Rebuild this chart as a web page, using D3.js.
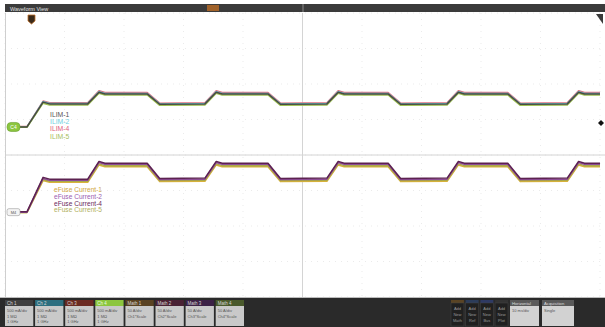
<!DOCTYPE html>
<html><head><meta charset="utf-8">
<script src="https://cdn.jsdelivr.net/npm/d3@7"></script>
<style>html,body{margin:0;padding:0;background:#fff;overflow:hidden}svg{display:block;font-family:"Liberation Sans",Arial,sans-serif}</style>
</head><body>
<svg id="c" width="605" height="327"></svg>
<script>
// time in horizontal divisions (10 divisions across the screen)
const timeDiv = [0.25,0.37,0.64,0.75,1.39,1.58,1.68,2.39,2.60,3.36,3.55,3.65,4.42,4.63,5.41,5.60,5.70,6.44,6.65,7.43,7.62,7.72,8.45,8.66,9.45,9.64,9.74,10.0];
// vertical position in divisions (0 = bottom of graticule, 8 = top)
const ilim1 = [4.79,4.79,5.49,5.44,5.44,5.77,5.72,5.72,5.43,5.44,5.77,5.72,5.72,5.43,5.44,5.77,5.72,5.72,5.43,5.44,5.77,5.72,5.72,5.43,5.44,5.77,5.72,5.72];
const ilim2 = [4.79,4.79,5.50,5.45,5.45,5.78,5.73,5.73,5.44,5.45,5.78,5.73,5.73,5.44,5.45,5.78,5.73,5.73,5.44,5.45,5.78,5.73,5.73,5.44,5.45,5.78,5.73,5.73];
const ilim4 = [4.80,4.80,5.52,5.47,5.47,5.81,5.76,5.76,5.46,5.47,5.81,5.76,5.76,5.46,5.47,5.81,5.76,5.76,5.46,5.47,5.81,5.76,5.76,5.46,5.47,5.81,5.76,5.76];
const ilim5 = [4.78,4.78,5.46,5.41,5.41,5.74,5.69,5.69,5.40,5.41,5.74,5.69,5.69,5.40,5.41,5.74,5.69,5.69,5.40,5.41,5.74,5.69,5.69,5.40,5.41,5.74,5.69,5.69];
const efuse1 = [2.38,2.38,3.28,3.23,3.23,3.72,3.67,3.67,3.25,3.26,3.72,3.67,3.67,3.25,3.26,3.72,3.67,3.67,3.25,3.26,3.72,3.67,3.67,3.25,3.26,3.72,3.67,3.67];
const efuse2 = [2.39,2.39,3.34,3.29,3.29,3.79,3.74,3.74,3.31,3.32,3.79,3.74,3.74,3.31,3.32,3.79,3.74,3.74,3.31,3.32,3.79,3.74,3.74,3.31,3.32,3.79,3.74,3.74];
const efuse4 = [2.40,2.40,3.37,3.32,3.32,3.82,3.77,3.77,3.34,3.35,3.82,3.77,3.77,3.34,3.35,3.82,3.77,3.77,3.34,3.35,3.82,3.77,3.77,3.34,3.35,3.82,3.77,3.77];
const efuse5 = [2.38,2.38,3.31,3.26,3.26,3.75,3.70,3.70,3.28,3.29,3.75,3.70,3.70,3.28,3.29,3.75,3.70,3.70,3.28,3.29,3.75,3.70,3.70,3.28,3.29,3.75,3.70,3.70];
const ilimNames = ["ILIM-1","ILIM-2","ILIM-4","ILIM-5"];
const efuseNames = ["eFuse Current-1","eFuse Current-2","eFuse Current-4","eFuse Current-5"];
const chanLabels = ["Ch 1","Ch 2","Ch 3","Ch 4","Math 1","Math 2","Math 3","Math 4"];
const chanLines = [["500 mA/div","1 MΩ","1 GHz"],["500 mA/div","1 MΩ","1 GHz"],["500 mA/div","1 MΩ","1 GHz"],["500 mA/div","1 MΩ","1 GHz"],["50 A/div","Ch1*Scale"],["50 A/div","Ch2*Scale"],["50 A/div","Ch3*Scale"],["50 A/div","Ch4*Scale"]];
const addLabels = [["Add","New","Math"],["Add","New","Ref"],["Add","New","Bus"],["Add","New","Plot"]];

const svg = d3.select("#c");
const W=605,H=327;
const L=5,R=600,T=13,B=297;
const x = d3.scaleLinear().domain([0,10]).range([L,R]);
const y = d3.scaleLinear().domain([0,8]).range([B,T]);

svg.append("rect").attr("width",W).attr("height",H).attr("fill","#ffffff");
// top title bar
svg.append("rect").attr("x",5).attr("y",4).attr("width",600).attr("height",8).attr("fill","#3b3b3b");
svg.append("text").attr("x",10).attr("y",10.5).attr("font-size",5.5).attr("fill","#e0e0e0").text("Waveform View");
svg.append("rect").attr("x",207).attr("y",5).attr("width",12).attr("height",6).attr("fill","#a0622a");
svg.append("line").attr("x1",303).attr("x2",303).attr("y1",4).attr("y2",12).attr("stroke","#888");

// graticule
const gx = d3.range(0,11), gy = d3.range(0,9);
svg.append("g").selectAll("line").data(gx).join("line")
  .attr("x1",d=>x(d)).attr("x2",d=>x(d)).attr("y1",T).attr("y2",B)
  .attr("stroke","#e6e6e6").attr("stroke-width",0.8).attr("stroke-dasharray","1,5");
svg.append("g").selectAll("line").data(gy).join("line")
  .attr("x1",L).attr("x2",R).attr("y1",d=>y(d)).attr("y2",d=>y(d))
  .attr("stroke","#e6e6e6").attr("stroke-width",0.8).attr("stroke-dasharray","1,5");
svg.append("line").attr("x1",x(5)).attr("x2",x(5)).attr("y1",T).attr("y2",B).attr("stroke","#d4d4d4").attr("stroke-width",1);
svg.append("line").attr("x1",L).attr("x2",W).attr("y1",y(4)).attr("y2",y(4)).attr("stroke","#d4d4d4").attr("stroke-width",1);
svg.append("line").attr("x1",L+0.5).attr("x2",L+0.5).attr("y1",T).attr("y2",B).attr("stroke","#cfcfcf");

svg.append("path").attr("d","M596,14 L603,14 L603,24 Z").attr("fill","#3a3a3a");

// traces
const line = d3.line().x((d,i)=>x(timeDiv[i])).y(d=>y(d));
const traces = [
  {v:ilim4,c:"#e07080"},{v:ilim2,c:"#58c4d4"},{v:ilim5,c:"#9cc050"},{v:ilim1,c:"#4a4a42"},
  {v:efuse1,c:"#d9b23a"},{v:efuse5,c:"#a9a84a"},{v:efuse2,c:"#8d4c96"},{v:efuse4,c:"#5c2250"}
];
svg.append("g").selectAll("path").data(traces).join("path")
  .attr("d",d=>line(d.v)).attr("fill","none").attr("stroke",d=>d.c).attr("stroke-width",1.5).attr("stroke-linejoin","round");

// legends
const ilimCol = ["#555555","#6fd0e0","#e0607a","#a8c060"];
svg.append("g").selectAll("text").data(ilimNames).join("text")
  .attr("x",50).attr("y",(d,i)=>117+i*7.2).attr("font-size",6.8).attr("fill",(d,i)=>ilimCol[i]).text(d=>d);
const efCol = ["#d0a840","#9a60b0","#6a2a60","#b0b060"];
svg.append("g").selectAll("text").data(efuseNames).join("text")
  .attr("x",54).attr("y",(d,i)=>192+i*6.8).attr("font-size",6.6).attr("fill",(d,i)=>efCol[i]).text(d=>d);

// channel markers
svg.append("line").attr("x1",19).attr("x2",x(timeDiv[0])).attr("y1",y(ilim1[0])).attr("y2",y(ilim1[0])).attr("stroke","#8cc63f").attr("stroke-width",1);
svg.append("rect").attr("x",7).attr("y",y(ilim1[0])-4.5).attr("width",13).attr("height",9).attr("rx",4).attr("fill","#8cc63f").attr("stroke","#6aa030").attr("stroke-width",0.6);
svg.append("text").attr("x",13.5).attr("y",y(ilim1[0])+2).attr("text-anchor","middle").attr("font-size",5).attr("fill","#fff").text("C4");
svg.append("rect").attr("x",7).attr("y",y(efuse2[0])-3.5).attr("width",13).attr("height",7).attr("rx",2).attr("fill","#f4f4f4").attr("stroke","#9a9a9a").attr("stroke-width",0.6);
svg.append("text").attr("x",13.5).attr("y",y(efuse2[0])+1.5).attr("text-anchor","middle").attr("font-size",4).attr("fill","#555").text("M4");
svg.append("path").attr("d","M28,15 L35,15 L35,21 L31.5,24 L28,21 Z").attr("fill","#3a2a1a").attr("stroke","#c07028").attr("stroke-width",0.8);
svg.append("path").attr("d","M598,123 L601,120 L604,123 L601,126 Z").attr("fill","#111");

// bottom panel
svg.append("rect").attr("x",0).attr("y",297).attr("width",W).attr("height",1).attr("fill","#bdbdbd");
svg.append("rect").attr("x",0).attr("y",298).attr("width",W).attr("height",29).attr("fill","#2a2a2a");
const headCol = ["#3f3f3f","#2d6f80","#6b2a22","#8cc63f","#5a4222","#4a2234","#3c2246","#4a5a2c"];
const bx = d3.scaleBand().domain(d3.range(8)).range([5,244]).paddingInner(0.06);
const chans = svg.append("g").selectAll("g").data(chanLabels).join("g")
  .attr("transform",(d,i)=>`translate(${bx(i)},300)`);
chans.append("rect").attr("width",bx.bandwidth()).attr("height",6).attr("fill",(d,i)=>headCol[i]);
chans.append("text").attr("x",2).attr("y",5).attr("font-size",4.5).attr("fill",(d,i)=>i===3?"#e8ffe0":"#d8d8d8").text(d=>d);
chans.append("rect").attr("y",6).attr("width",bx.bandwidth()).attr("height",20).attr("fill","#c9c9c9");
chans.each(function(d,i){
  d3.select(this).selectAll("text.b").data(chanLines[i]).join("text").attr("class","b")
    .attr("x",2).attr("y",(t,j)=>12+j*5.5).attr("font-size",4).attr("fill","#555").text(t=>t);
});
const addCol = ["#5a4424","#2c3c5a","#2e3a64","#333333"];
const ax = d3.scaleBand().domain(d3.range(4)).range([451,508]).paddingInner(0.12);
const adds = svg.append("g").selectAll("g").data(addLabels).join("g").attr("transform",(d,i)=>`translate(${ax(i)},300)`);
adds.append("rect").attr("width",ax.bandwidth()).attr("height",3).attr("fill",(d,i)=>addCol[i]);
adds.append("rect").attr("y",3).attr("width",ax.bandwidth()).attr("height",23).attr("fill","#202020").attr("stroke","#444").attr("stroke-width",0.5);
adds.each(function(d){
  d3.select(this).selectAll("text").data(d).join("text").attr("x",ax.bandwidth()/2).attr("text-anchor","middle")
    .attr("y",(t,j)=>10+j*6).attr("font-size",4).attr("fill","#9a9a9a").text(t=>t);
});
const bigBoxes = [{x:510,w:29,h:"Horizontal",t:"10 ms/div"},{x:542,w:32,h:"Acquisition",t:"Single"}];
const bb = svg.append("g").selectAll("g").data(bigBoxes).join("g").attr("transform",d=>`translate(${d.x},300)`);
bb.append("rect").attr("width",d=>d.w).attr("height",6).attr("fill","#5a5a5a");
bb.append("text").attr("x",2).attr("y",5).attr("font-size",4.2).attr("fill","#ddd").text(d=>d.h);
bb.append("rect").attr("y",6).attr("width",d=>d.w).attr("height",20).attr("fill","#d2d2d2");
bb.append("text").attr("x",2).attr("y",12).attr("font-size",4).attr("fill","#555").text(d=>d.t);
</script>
</body></html>
